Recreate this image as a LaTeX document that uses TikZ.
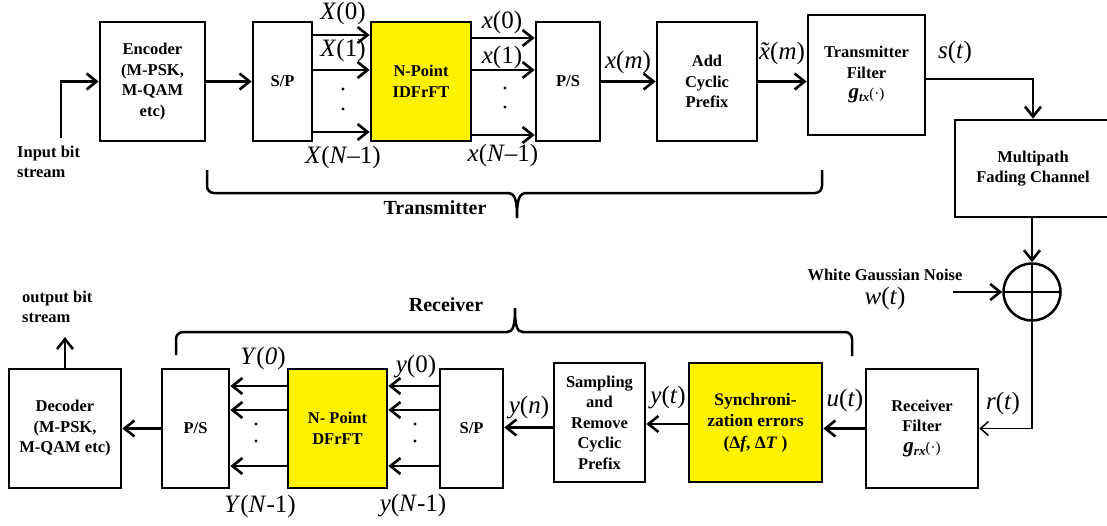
\documentclass[tikz,border=0pt]{standalone}
\usepackage{fontspec}
\setmainfont{Liberation Serif}
\usetikzlibrary{arrows.meta,calc}
\newcommand{\xtil}{\textit{x}\llap{\textit{\char"02DC}\kern0.03em}}
\newcommand{\gfilt}[1]{{\fontsize{21}{21}\selectfont\textit{g}}\raisebox{-3pt}{\fontsize{13}{13}\selectfont\textit{#1}}{\fontsize{15}{15}\selectfont\mdseries(·)}}
\begin{document}
\begin{tikzpicture}[x=1pt,y=-1pt,
  blk/.style={draw, line width=2.7pt, inner sep=1pt, align=center, font=\fontsize{16.5}{20.5}\selectfont\bfseries},
  yel/.style={blk, fill=yellow},
  arr/.style={line width=2.7pt, -{Straight Barb[length=10pt,width=16pt,line width=2.6pt]}},
  thinarr/.style={line width=1.5pt, -{Straight Barb[length=8pt,width=14pt,line width=1.5pt]}},
  lab/.style={font=\fontsize{25}{28}\selectfont, inner sep=0},
  txt/.style={font=\fontsize{16.5}{20.5}\selectfont\bfseries, align=left, inner sep=0},
  brc/.style={line width=2.5pt},
  dot/.style={fill, circle, inner sep=0, minimum size=3.4pt}
]
\useasboundingbox (0,0) rectangle (1107,525);
\clip (0,0) rectangle (1107,525);

% ---------- transmitter row ----------
\node[blk, minimum width=105, minimum height=119] (enc) at (152.5,81.5) {Encoder\\(M-PSK,\\M-QAM\\etc)};
\node[blk, minimum width=59, minimum height=119] (sp1) at (282.5,81.5) {S/P};
\node[yel, minimum width=100, minimum height=119] (idf) at (421,81.5) {N-Point\\IDFrFT};
\node[blk, minimum width=64, minimum height=119] (ps1) at (568,81.5) {P/S};
\node[blk, minimum width=100, minimum height=119] (acp) at (707,81.5) {Add\\Cyclic\\Prefix};
\node[blk, minimum width=117, minimum height=120] (txf) at (866.5,75) {Transmitter\\Filter\\\gfilt{tx}};
\node[blk, minimum width=156, minimum height=97] (chan) at (1033,168.5) {Multipath\\Fading Channel};

\coordinate (inp) at (61,138);
\node[txt, anchor=west] (inlab) at (17,162) {Input bit\\stream};
\draw[arr] (inp) |- (enc.west);
\draw[arr] (enc.east) -- (enc.east -| sp1.west);

\draw[arr] ([yshift=46.5pt]sp1.east) -- ([yshift=46.5pt]sp1.east -| idf.west);
\draw[arr] ([yshift=11.5pt]sp1.east) -- ([yshift=11.5pt]sp1.east -| idf.west);
\draw[arr] ([yshift=-50.5pt]sp1.east) -- ([yshift=-50.5pt]sp1.east -| idf.west);
\node[dot] (d1) at (343,89) {};
\node[dot] (d2) at (343,109) {};
\node[lab] (X0) at (343,13) {\textit{X}(0)};
\node[lab] (X1) at (343,50) {\textit{X}(1)};
\node[lab] (XN) at (343,157) {\textit{X}(\textit{N}–1)};

\draw[arr] ([yshift=43.5pt]idf.east) -- ([yshift=43.5pt]idf.east -| ps1.west);
\draw[arr] ([yshift=11.5pt]idf.east) -- ([yshift=11.5pt]idf.east -| ps1.west);
\draw[arr] ([yshift=-53.5pt]idf.east) -- ([yshift=-53.5pt]idf.east -| ps1.west);
\node[dot] (d3) at (505,88) {};
\node[dot] (d4) at (505,107) {};
\node[lab] (x0) at (502,22) {\textit{x}(0)};
\node[lab] (x1) at (502,57) {\textit{x}(1)};
\node[lab] (xN) at (503,155) {\textit{x}(\textit{N}–1)};

\draw[arr] (ps1.east) -- (ps1.east -| acp.west);
\node[lab] (xm) at (628,62) {\textit{x}(\textit{m})};
\draw[arr] (acp.east) -- (acp.east -| txf.west);
\node[lab] (xtm) at (782,53) {\xtil(\textit{m})};

\draw[arr] ([yshift=-4pt]txf.east) -| (chan.north);
\node[lab] (st) at (955,52) {\textit{s}(\textit{t})};

% transmitter brace
\draw[brc, rounded corners=7pt] (207,170) |- (508,193);
\draw[brc] (507,193) .. controls (515,193) and (517,199) .. (517,218) .. controls (517,199) and (519,193) .. (527,193);
\draw[brc, rounded corners=7pt] (526,193) -| (822,170);
\node[font=\fontsize{20}{22}\selectfont\bfseries, inner sep=0] (tlab) at (435,208) {Transmitter};

% ---------- receiver row ----------
\node[blk, minimum width=112, minimum height=119] (rxf) at (922,428.5) {Receiver\\Filter\\\gfilt{rx}};
\node[yel, minimum width=133, minimum height=119, font=\fontsize{17.5}{21.5}\selectfont\bfseries] (syn) at (755.5,422.5) {Synchroni-\\zation errors\\(Δ\textit{f}, Δ\textit{T} )};
\node[blk, minimum width=91, minimum height=119] (smp) at (599.5,422.5) {Sampling\\and\\Remove\\Cyclic\\Prefix};
\node[blk, minimum width=63, minimum height=119] (sp2) at (471.5,428.5) {S/P};
\node[yel, minimum width=99, minimum height=119] (dfr) at (337.5,428.5) {N- Point\\DFrFT};
\node[blk, minimum width=67, minimum height=119] (ps2) at (195.5,428.5) {P/S};
\node[blk, minimum width=112, minimum height=119] (dec) at (65,428.5) {Decoder\\(M-PSK,\\M-QAM etc)};

% ---------- channel / noise ----------
\node[circle, draw, line width=2.5pt, minimum size=57pt, inner sep=0,
  path picture={\draw[line width=2.5pt] (path picture bounding box.north) -- (path picture bounding box.south)
    (path picture bounding box.west) -- (path picture bounding box.east);}] (add) at (1032,292) {};
\draw[arr] (chan.south -| add.north) -- (add.north);
\node[txt, anchor=center] (wgn) at (885,275) {White Gaussian Noise};
\node[lab] (wt) at (885,298) {\textit{w}(\textit{t})};
\coordinate (nz) at (953,292);
\draw[arr] (nz) -- (add.west);
\draw[thinarr] (add.south) |- (rxf.east);
\node[lab] (rt) at (1003,403) {\textit{r}(\textit{t})};

\draw[arr] (rxf.west) -- (rxf.west -| syn.east);
\node[lab] (ut) at (845,400) {\textit{u}(\textit{t})};
\draw[arr] ([yshift=-1.5pt]syn.west) -- ([yshift=-1.5pt]syn.west -| smp.east);
\node[lab] (yt) at (668,398) {\textit{y}(\textit{t})};
\draw[arr] ([yshift=-5pt]smp.west) -- ([yshift=-5pt]smp.west -| sp2.east);
\node[lab] (yn) at (529,408) {\textit{y}(\textit{n})};

\draw[arr] ([yshift=42.5pt]sp2.west) -- ([yshift=42.5pt]sp2.west -| dfr.east);
\draw[arr] ([yshift=18.5pt]sp2.west) -- ([yshift=18.5pt]sp2.west -| dfr.east);
\draw[arr] ([yshift=-37.5pt]sp2.west) -- ([yshift=-37.5pt]sp2.west -| dfr.east);
\node[dot] (d5) at (415,424) {};
\node[dot] (d6) at (415,441) {};
\node[lab] (y0) at (416,367) {\textit{y}(0)};
\node[lab] (yN) at (413,506) {\textit{y}(\textit{N}-1)};

\draw[arr] ([yshift=42.5pt]dfr.west) -- ([yshift=42.5pt]dfr.west -| ps2.east);
\draw[arr] ([yshift=18.5pt]dfr.west) -- ([yshift=18.5pt]dfr.west -| ps2.east);
\draw[arr] ([yshift=-37.5pt]dfr.west) -- ([yshift=-37.5pt]dfr.west -| ps2.east);
\node[dot] (d7) at (256,424) {};
\node[dot] (d8) at (256,441) {};
\node[lab] (Y0) at (263,358) {\textit{Y}(\textit{0})};
\node[lab] (YN) at (260,506) {\textit{Y}(\textit{N}-1)};

\draw[arr] (ps2.west) -- (dec.east);
\coordinate (outp) at (65,337);
\draw[arr] (dec.north) -- (outp);
\node[txt, anchor=west] (outlab) at (22,307) {output bit\\stream};

% receiver brace
\draw[brc, rounded corners=7pt] (176,355) |- (508,332);
\draw[brc] (507,332) .. controls (513,332) and (515,326) .. (515,308) .. controls (515,326) and (517,332) .. (523,332);
\draw[brc, rounded corners=7pt] (522,332) -| (852,356);
\node[font=\fontsize{20}{22}\selectfont\bfseries, inner sep=0] (rlab) at (446,305) {Receiver};
\end{tikzpicture}
\end{document}
